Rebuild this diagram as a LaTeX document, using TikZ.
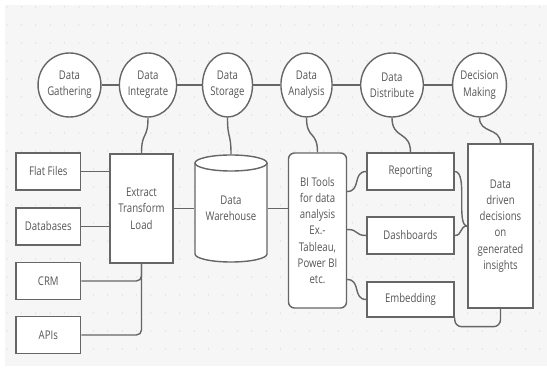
\documentclass[tikz,border=0pt]{standalone}
\usepackage{fontspec}
\setmainfont[FakeStretch=0.8]{Open Sans}
\usetikzlibrary{shapes.geometric}
\definecolor{ln}{HTML}{666666}
\definecolor{tx}{HTML}{555555}
\definecolor{bg}{HTML}{F6F6F6}

\begin{document}
\begin{tikzpicture}[x=1pt,y=-1pt,line width=1.4pt,
  every node/.style={font=\fontsize{12}{16.3}\selectfont,text=tx,align=center},
  stage/.style={ellipse,draw=ln,fill=white,minimum width=50pt,minimum height=64pt,inner sep=0pt},
  src/.style={rectangle,draw=ln,fill=white,minimum width=64.7pt,minimum height=37pt,inner sep=2pt},
  wire/.style={draw=ln}]
% background with dot grid
\fill[white] (0,0) rectangle (547,371);
\fill[bg] (5,5) rectangle (547,366);
\foreach \i in {0,...,37} \foreach \j in {0,...,19}
  \fill[gray!35] (7+14.4*\i,7+18*\j) circle (0.6pt);

% stages
\node[stage] (g1) at (69.5,85) {Data\\Gathering};
\node[stage] (g2) at (148,85) {Data\\Integrate};
\node[stage] (g3) at (227.5,85) {Data\\Storage};
\node[stage] (g4) at (306.5,85) {Data\\Analysis};
\node[stage] (g5) at (392,85) {Data\\Distribute};
\node[stage] (g6) at (479.5,85) {Decision\\Making};
\draw[wire] (g1) -- (g2) -- (g3) -- (g4) -- (g5) -- (g6);

% sources and ETL
\node[src] (ff) at (48.3,171.5) {Flat Files};
\node[src] (db) at (48.3,226.5) {Databases};
\node[src] (cr) at (48.3,281) {CRM};
\node[src] (ap) at (48.3,335) {APIs};
\node[src,minimum width=63pt,minimum height=109pt] (etl) at (141.5,208.5) {Extract\\Transform\\Load};

% warehouse
\filldraw[draw=ln,fill=white] (195,163) -- (195,254) arc[start angle=180,end angle=0,x radius=36,y radius=8] -- (267,163);
\draw[draw=ln,fill=white] (231,163) ellipse[x radius=36,y radius=8];
\node[minimum width=72pt,minimum height=107pt] (dw) at (231,208.5) {Data\\Warehouse};

% analysis, distribution, decisions
\node[src,rounded corners=6pt,minimum width=58pt,minimum height=155pt] (bi) at (317.5,230.5)
  {BI Tools\\for data\\analysis\\Ex.-\\Tableau,\\Power BI\\etc.};
\node[src,minimum width=87pt] (rp) at (410.5,171.5) {Reporting};
\node[src,minimum width=87pt] (ds) at (410.5,235.5) {Dashboards};
\node[src,minimum width=87pt,minimum height=35pt] (em) at (410.5,299.5) {Embedding};
\node[src,minimum width=65pt,minimum height=164pt] (dd) at (500.5,226)
  {Data\\driven\\decisions\\on\\generated\\insights};

\draw[wire] (g2.south) .. controls +(0,22) and +(0,-22) .. (etl.north);
\draw[wire] (g3.south) .. controls +(0,22) and +(0,-22) .. (dw.north);
\draw[wire] (g4.south) .. controls +(0,22) and +(0,-22) .. (bi.north);
\draw[wire] (g5.south) .. controls +(0,22) and +(0,-22) .. (rp.north);
\draw[wire] (g6.south) .. controls +(0,16) and +(0,-16) .. (dd.north);
\draw[wire] (ff.east) -- (ff.east -| etl.west);
\draw[wire] (db.east) -- (db.east -| etl.west);
\draw[wire,rounded corners=5pt] (cr.east) -| (etl.south);
\draw[wire,rounded corners=5pt] (ap.east) -| (etl.south);
\draw[wire] (etl.east) -- (dw.west);
\draw[wire] (dw.east) -- (dw.east -| bi.west);
\draw[wire] ([yshift=39pt]bi.east) .. controls +(14,0) and +(-14,0) .. (rp.west);
\draw[wire] ([yshift=1pt]bi.east) .. controls +(12,0) and +(-12,0) .. (ds.west);
\draw[wire] ([yshift=-49pt]bi.east) .. controls +(14,0) and +(-14,0) .. (em.west);
\draw[wire] (rp.east) .. controls +(14,0) and +(-12,0) .. (dd.west);
\draw[wire] (ds.east) .. controls +(8,0) and +(-8,0) .. (dd.west);
\draw[wire,rounded corners=7pt] (em.south east) |- ([yshift=-18pt]dd.south) -- (dd.south);
\end{tikzpicture}
\end{document}
